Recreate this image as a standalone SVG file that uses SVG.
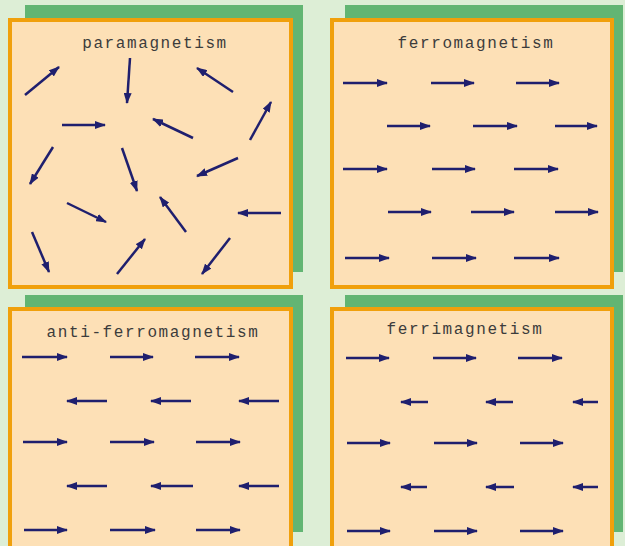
<svg xmlns="http://www.w3.org/2000/svg" width="625" height="546" viewBox="0 0 625 546">
<style>
.bg{fill:#ddeed6}
.sh{fill:#62b573}
.pn{fill:#fde0b6;stroke:#f0a00c;stroke-width:4}
.t{font-family:"Liberation Mono","DejaVu Sans Mono",monospace;font-size:16px;fill:#3c3c3c;text-anchor:middle;letter-spacing:1.6px}
.a{stroke:#1f1f6e;stroke-width:2.5;fill:none;marker-end:url(#h)}
</style>
<defs>
<marker id="h" viewBox="0 0 11 8" refX="10" refY="4" markerWidth="11" markerHeight="8" markerUnits="userSpaceOnUse" orient="auto">
<path d="M0,0 L11,4 L0,8 z" fill="#1f1f6e"/>
</marker>
</defs>
<rect class="bg" x="0" y="0" width="625" height="546"/>
<g id="paramagnetism">
<rect class="sh" x="25" y="5" width="278" height="267"/>
<rect class="pn" x="10" y="20" width="281" height="267"/>
<text class="t" x="155" y="48">paramagnetism</text>
</g>
<g id="ferromagnetism">
<rect class="sh" x="345" y="5" width="278" height="267"/>
<rect class="pn" x="332" y="20" width="280" height="267"/>
<text class="t" x="476" y="48">ferromagnetism</text>
</g>
<g id="anti-ferromagnetism">
<rect class="sh" x="25" y="295" width="278" height="237"/>
<rect class="pn" x="10" y="309" width="281" height="250"/>
<text class="t" x="153" y="337">anti-ferromagnetism</text>
</g>
<g id="ferrimagnetism">
<rect class="sh" x="345" y="295" width="278" height="237"/>
<rect class="pn" x="332" y="309" width="280" height="250"/>
<text class="t" x="465" y="334">ferrimagnetism</text>
</g>
<g id="connectors">
<!-- paramagnetism -->
<line class="a" x1="25" y1="95" x2="59" y2="67"/>
<line class="a" x1="130" y1="58" x2="127" y2="103"/>
<line class="a" x1="233" y1="92" x2="197" y2="68"/>
<line class="a" x1="250" y1="140" x2="271" y2="102"/>
<line class="a" x1="62" y1="125" x2="105" y2="125"/>
<line class="a" x1="193" y1="138" x2="153" y2="119"/>
<line class="a" x1="53" y1="147" x2="30" y2="184"/>
<line class="a" x1="122" y1="148" x2="137" y2="191"/>
<line class="a" x1="238" y1="158" x2="197" y2="176"/>
<line class="a" x1="67" y1="203" x2="106" y2="222"/>
<line class="a" x1="186" y1="232" x2="160" y2="197"/>
<line class="a" x1="281" y1="213" x2="238" y2="213"/>
<line class="a" x1="32" y1="232" x2="49" y2="272"/>
<line class="a" x1="117" y1="274" x2="145" y2="239"/>
<line class="a" x1="230" y1="238" x2="202" y2="274"/>
<!-- ferromagnetism -->
<line class="a" x1="343" y1="83" x2="387" y2="83"/>
<line class="a" x1="431" y1="83" x2="474" y2="83"/>
<line class="a" x1="516" y1="83" x2="559" y2="83"/>
<line class="a" x1="387" y1="126" x2="430" y2="126"/>
<line class="a" x1="473" y1="126" x2="517" y2="126"/>
<line class="a" x1="555" y1="126" x2="597" y2="126"/>
<line class="a" x1="343" y1="169" x2="387" y2="169"/>
<line class="a" x1="432" y1="169" x2="475" y2="169"/>
<line class="a" x1="514" y1="169" x2="558" y2="169"/>
<line class="a" x1="388" y1="212" x2="431" y2="212"/>
<line class="a" x1="471" y1="212" x2="514" y2="212"/>
<line class="a" x1="555" y1="212" x2="598" y2="212"/>
<line class="a" x1="345" y1="258" x2="389" y2="258"/>
<line class="a" x1="432" y1="258" x2="476" y2="258"/>
<line class="a" x1="514" y1="258" x2="559" y2="258"/>
<!-- anti-ferromagnetism -->
<line class="a" x1="22" y1="357" x2="67" y2="357"/>
<line class="a" x1="110" y1="357" x2="153" y2="357"/>
<line class="a" x1="195" y1="357" x2="239" y2="357"/>
<line class="a" x1="107" y1="401" x2="67" y2="401"/>
<line class="a" x1="191" y1="401" x2="151" y2="401"/>
<line class="a" x1="279" y1="401" x2="239" y2="401"/>
<line class="a" x1="23" y1="442" x2="67" y2="442"/>
<line class="a" x1="110" y1="442" x2="154" y2="442"/>
<line class="a" x1="196" y1="442" x2="240" y2="442"/>
<line class="a" x1="107" y1="486" x2="67" y2="486"/>
<line class="a" x1="193" y1="486" x2="151" y2="486"/>
<line class="a" x1="279" y1="486" x2="239" y2="486"/>
<line class="a" x1="24" y1="530" x2="67" y2="530"/>
<line class="a" x1="110" y1="530" x2="155" y2="530"/>
<line class="a" x1="196" y1="530" x2="240" y2="530"/>
<!-- ferrimagnetism -->
<line class="a" x1="346" y1="358" x2="389" y2="358"/>
<line class="a" x1="433" y1="358" x2="476" y2="358"/>
<line class="a" x1="518" y1="358" x2="562" y2="358"/>
<line class="a" x1="428" y1="402" x2="401" y2="402"/>
<line class="a" x1="513" y1="402" x2="486" y2="402"/>
<line class="a" x1="598" y1="402" x2="573" y2="402"/>
<line class="a" x1="347" y1="443" x2="390" y2="443"/>
<line class="a" x1="434" y1="443" x2="477" y2="443"/>
<line class="a" x1="520" y1="443" x2="563" y2="443"/>
<line class="a" x1="427" y1="487" x2="401" y2="487"/>
<line class="a" x1="514" y1="487" x2="486" y2="487"/>
<line class="a" x1="598" y1="487" x2="573" y2="487"/>
<line class="a" x1="347" y1="531" x2="390" y2="531"/>
<line class="a" x1="434" y1="531" x2="477" y2="531"/>
<line class="a" x1="520" y1="531" x2="563" y2="531"/>
</g>
</svg>
